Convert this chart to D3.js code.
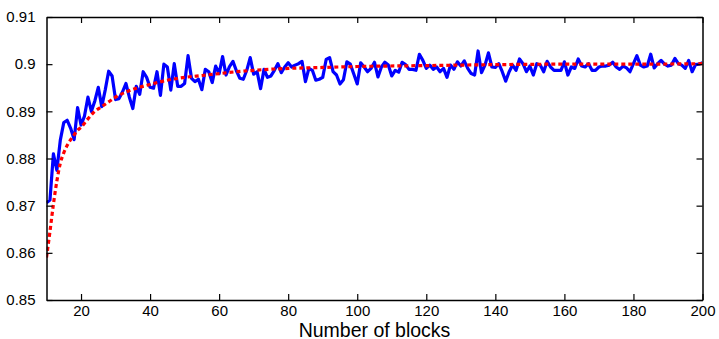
<!DOCTYPE html>
<html>
<head>
<meta charset="utf-8">
<script src="https://cdn.jsdelivr.net/npm/d3@7"></script>
<style>
html,body{margin:0;padding:0;background:#fff;}
svg{display:block;}
text{font-family:"Liberation Sans",Arial,Helvetica,sans-serif;fill:#000;}
</style>
</head>
<body>
<svg id="chart" width="719" height="339"></svg>
<script>
// Blocks 10..200 (one value per block)
const blockStart = 10;
const blueValues = [
0.8706,0.8712,0.8810,0.8775,0.8839,0.8876,0.8881,0.8864,0.8840,0.8908,
0.8871,0.8890,0.8930,0.8900,0.8922,0.8951,0.8910,0.8945,0.8985,0.8975,
0.8925,0.8927,0.8941,0.8959,0.8930,0.8906,0.8953,0.8936,0.8984,0.8972,
0.8951,0.8949,0.8984,0.8934,0.9000,0.8994,0.8945,0.9001,0.8953,0.8953,
0.8959,0.9018,0.8970,0.8963,0.8968,0.8946,0.8989,0.8984,0.8961,0.8996,
0.8980,0.9016,0.8977,0.8995,0.9006,0.8986,0.8970,0.8968,0.8987,0.9014,
0.8979,0.8984,0.8948,0.8989,0.8972,0.8975,0.8987,0.9001,0.8982,0.8994,
0.9003,0.8994,0.8998,0.9001,0.9006,0.8963,0.8991,0.8987,0.8966,0.8968,
0.8972,0.9010,0.9014,0.8984,0.8977,0.8958,0.8967,0.9005,0.9000,0.8979,
0.8958,0.9003,0.8994,0.8984,0.8991,0.9004,0.8973,0.8994,0.9004,0.8998,
0.8975,0.8987,0.8983,0.9004,0.8999,0.8989,0.8989,0.8987,0.9021,0.9008,
0.8991,0.8998,0.8989,0.8994,0.8984,0.8991,0.8972,0.8998,0.8989,0.9005,
0.8996,0.9007,0.8991,0.8980,0.8977,0.9028,0.8982,0.8998,0.9024,0.8994,
0.8993,0.9001,0.8984,0.8964,0.8984,0.8998,0.8987,0.9011,0.9001,0.8984,
0.8996,0.8977,0.9001,0.8998,0.8984,0.9006,0.8994,0.8987,0.8987,0.8987,
0.9005,0.8977,0.8994,0.8991,0.9011,0.8996,0.8994,0.9001,0.8987,0.8987,
0.8994,0.8996,0.8996,0.8998,0.9004,0.8994,0.8989,0.8996,0.8992,0.8984,
0.9001,0.9018,0.8998,0.8994,0.8996,0.9021,0.8992,0.9001,0.9008,0.9000,
0.8996,0.8998,0.9012,0.9001,0.8998,0.8991,0.9008,0.8984,0.8999,0.9000,
0.9003
];
// Smooth reference curve (red dotted)
const redBlocks = [10,11,12,13,14,15,16,17,18,19,20,22,24,26,28,30,33,36,40,45,50,55,60,65,70,80,90,100,120,140,160,180,200];
const redValues = [0.8590,0.8645,0.8703,0.8752,0.8790,0.8812,0.8828,0.8840,0.8850,0.8860,0.8866,0.8884,0.8900,0.8910,0.8920,0.8930,0.8941,0.8949,0.8957,0.8966,0.8972,0.8976,0.8980,0.8984,0.8987,0.8991,0.8993,0.8995,0.8997,0.8999,0.9000,0.9000,0.9001];
const xTicks = [20,40,60,80,100,120,140,160,180,200];
const yTicks = [0.85,0.86,0.87,0.88,0.89,0.90,0.91];
const yTickLabels = ["0.85","0.86","0.87","0.88","0.89","0.9","0.91"];
const xLabel = "Number of blocks";

const L = 46.5, R = 702.5, T = 17, B = 300;
const svg = d3.select("#chart");
const x = d3.scaleLinear().domain([10,200]).range([L,R]);
const y = d3.scaleLinear().domain([0.85,0.91]).range([B,T]);

const blue = blueValues.map((v,i)=>({b:blockStart+i,v}));
const red = redBlocks.map((b,i)=>({b,v:redValues[i]}));

svg.append("clipPath").attr("id","clip").append("rect")
  .attr("x",L).attr("y",T).attr("width",R-L).attr("height",B-T);

const g = svg.append("g").attr("clip-path","url(#clip)");
g.append("path").datum(blue)
  .attr("fill","none").attr("stroke","#0000ff").attr("stroke-width",3.2)
  .attr("stroke-linejoin","round")
  .attr("d",d3.line().x(d=>x(d.b)).y(d=>y(d.v)));
g.append("path").datum(red)
  .attr("fill","none").attr("stroke","#ff0000").attr("stroke-width",3.2)
  .attr("stroke-dasharray","4,3")
  .attr("d",d3.line().curve(d3.curveMonotoneX).x(d=>x(d.b)).y(d=>y(d.v)));

// Axes (box with inward ticks)
const axB = d3.axisBottom(x).tickValues(xTicks).tickSizeInner(-6).tickSizeOuter(0).tickPadding(5).tickFormat(d3.format("d"));
const axT = d3.axisTop(x).tickValues(xTicks).tickSizeInner(-6).tickSizeOuter(0).tickFormat("");
const axL = d3.axisLeft(y).tickValues(yTicks).tickSizeInner(-6).tickSizeOuter(0).tickPadding(11).tickFormat((d,i)=>yTickLabels[i]);
const axR = d3.axisRight(y).tickValues(yTicks).tickSizeInner(-6).tickSizeOuter(0).tickFormat("");

function style(sel){
  sel.selectAll("path.domain").attr("stroke","#000").attr("stroke-width",1.5);
  sel.selectAll(".tick line").attr("stroke","#000").attr("stroke-width",1.2);
  sel.selectAll("text").attr("font-size","15px").attr("font-family","Liberation Sans, Arial, sans-serif").attr("fill","#000");
}
svg.append("g").attr("transform",`translate(0,${B})`).call(axB).call(style);
svg.append("g").attr("transform",`translate(0,${T})`).call(axT).call(style);
svg.append("g").attr("transform",`translate(${L},0)`).call(axL).call(style);
svg.append("g").attr("transform",`translate(${R},0)`).call(axR).call(style);

svg.append("text").attr("x",(L+R)/2).attr("y",336.5)
  .attr("text-anchor","middle").attr("font-size","19.5px").text(xLabel);
</script>
</body>
</html>
